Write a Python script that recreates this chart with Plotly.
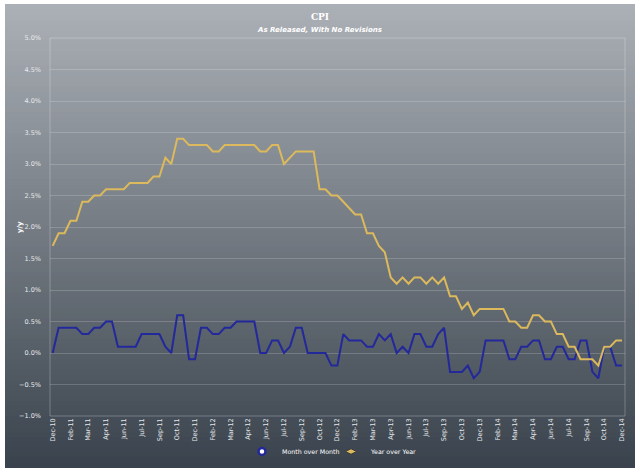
import plotly.graph_objects as go

tick_labels = ["Dec-10", "Feb-11", "Mar-11", "Apr-11", "Jun-11", "Jul-11", "Sep-11", "Oct-11",
               "Dec-11", "Feb-12", "Mar-12", "Apr-12", "Jun-12", "Jul-12", "Sep-12", "Oct-12",
               "Dec-12", "Feb-13", "Mar-13", "Apr-13", "Jun-13", "Jul-13", "Sep-13", "Oct-13",
               "Dec-13", "Feb-14", "Mar-14", "Apr-14", "Jun-14", "Jul-14", "Sep-14", "Oct-14",
               "Dec-14"]

mom = [0.0, 0.4, 0.4, 0.4, 0.4, 0.3, 0.3, 0.4, 0.4, 0.5,
       0.5, 0.1, 0.1, 0.1, 0.1, 0.3, 0.3, 0.3, 0.3, 0.1,
       0.0, 0.6, 0.6, -0.1, -0.1, 0.4, 0.4, 0.3, 0.3, 0.4,
       0.4, 0.5, 0.5, 0.5, 0.5, 0.0, 0.0, 0.2, 0.2, 0.0,
       0.1, 0.4, 0.4, 0.0, 0.0, 0.0, 0.0, -0.2, -0.2, 0.3,
       0.2, 0.2, 0.2, 0.1, 0.1, 0.3, 0.2, 0.3, 0.0, 0.1,
       0.0, 0.3, 0.3, 0.1, 0.1, 0.3, 0.4, -0.3, -0.3, -0.3,
       -0.2, -0.4, -0.3, 0.2, 0.2, 0.2, 0.2, -0.1, -0.1, 0.1,
       0.1, 0.2, 0.2, -0.1, -0.1, 0.1, 0.1, -0.1, -0.1, 0.2,
       0.2, -0.3, -0.4, 0.1, 0.1, -0.2, -0.2]

yoy = [1.7, 1.9, 1.9, 2.1, 2.1, 2.4, 2.4, 2.5, 2.5, 2.6,
       2.6, 2.6, 2.6, 2.7, 2.7, 2.7, 2.7, 2.8, 2.8, 3.1,
       3.0, 3.4, 3.4, 3.3, 3.3, 3.3, 3.3, 3.2, 3.2, 3.3,
       3.3, 3.3, 3.3, 3.3, 3.3, 3.2, 3.2, 3.3, 3.3, 3.0,
       3.1, 3.2, 3.2, 3.2, 3.2, 2.6, 2.6, 2.5, 2.5, 2.4,
       2.3, 2.2, 2.2, 1.9, 1.9, 1.7, 1.6, 1.2, 1.1, 1.2,
       1.1, 1.2, 1.2, 1.1, 1.2, 1.1, 1.2, 0.9, 0.9, 0.7,
       0.8, 0.6, 0.7, 0.7, 0.7, 0.7, 0.7, 0.5, 0.5, 0.4,
       0.4, 0.6, 0.6, 0.5, 0.5, 0.3, 0.3, 0.1, 0.1, -0.1,
       -0.1, -0.1, -0.2, 0.1, 0.1, 0.2, 0.2]

idx = list(range(len(mom)))
tick_pos = list(range(0, len(mom), 3))

BLUE = "#23289a"
GOLD = "#dcb95c"

fig = go.Figure()
fig.add_trace(go.Scatter(x=idx, y=mom, mode="lines", name="Month over Month",
                         line=dict(color=BLUE, width=2), showlegend=False))
fig.add_trace(go.Scatter(x=idx, y=yoy, mode="lines", name="Year over Year",
                         line=dict(color=GOLD, width=2), showlegend=False))
# legend entries (marker style as in the reference legend)
fig.add_trace(go.Scatter(x=[None], y=[None], mode="markers", name="Month over Month",
                         legend="legend",
                         marker=dict(symbol="circle", size=7, color="white",
                                     line=dict(color=BLUE, width=2.5))))
fig.add_trace(go.Scatter(x=[None], y=[None], mode="markers", name="Year over Year",
                         legend="legend2",
                         marker=dict(symbol="diamond-wide", size=8, color=GOLD,
                                     line=dict(color="#3a3a3a", width=1))))

# gradient background panel
W, H = 640, 473
ml, mr, mt, mb = 50, 15, 38, 57
pw, ph = W - ml - mr, H - mt - mb
def px2x(px):
    return (px - ml) / pw
def py2y(py):
    return (H - mb - py) / ph

top_c = (171, 176, 182)
bot_c = (58, 67, 77)
y0p, y1p = 4, 468
n = 90
shapes = []
for k in range(n):
    t = k / (n - 1)
    c = tuple(int(round(top_c[j] + (bot_c[j] - top_c[j]) * t)) for j in range(3))
    a = y0p + (y1p - y0p) * k / n
    b = y0p + (y1p - y0p) * (k + 1) / n + 0.8
    shapes.append(dict(type="rect", xref="paper", yref="paper", layer="below",
                       x0=px2x(5), x1=px2x(635), y0=py2y(min(b, y1p)), y1=py2y(a),
                       line=dict(width=0), fillcolor="rgb(%d,%d,%d)" % c))
shapes.append(dict(type="rect", xref="paper", yref="paper", layer="below",
                   x0=0, x1=1, y0=0, y1=1,
                   line=dict(width=1, color="rgba(255,255,255,0.25)"),
                   fillcolor="rgba(0,0,0,0)"))

leg_common = dict(orientation="h", yanchor="top", y=py2y(437), xanchor="left",
                  font=dict(size=6.3, color="white", family="DejaVu Sans"),
                  bgcolor="rgba(0,0,0,0)", itemwidth=30)

fig.update_layout(
    width=W, height=H,
    margin=dict(l=ml, r=mr, t=mt, b=mb, autoexpand=False),
    paper_bgcolor="white",
    plot_bgcolor="rgba(0,0,0,0)",
    shapes=shapes,
    title=dict(text="<b>CPI</b><br><span style='font-size:7px;font-family:DejaVu Sans'><b><i>As Released, With No Revisions</i></b></span>",
               x=0.5, xanchor="center", y=0.957, yanchor="top",
               font=dict(family="DejaVu Serif", size=9, color="white")),
    font=dict(family="DejaVu Sans", size=7, color="#e6e9ec"),
    showlegend=True,
    legend=dict(leg_common, x=px2x(242)),
    legend2=dict(leg_common, x=px2x(331)),
    annotations=[dict(text="<b>y/y</b>", textangle=-90, xref="paper", yref="paper",
                      x=px2x(20), y=py2y(227), xanchor="center", yanchor="middle",
                      showarrow=False, font=dict(size=7, color="white"))],
    xaxis=dict(range=[-0.45, len(mom) - 0.5], tickmode="array", tickvals=tick_pos,
               ticktext=tick_labels, tickangle=-90, showgrid=False, zeroline=False,
               showline=False, ticks="", automargin=False,
               tickfont=dict(size=6.5, color="#e6e9ec")),
    yaxis=dict(range=[-1.0, 5.0], dtick=0.5, tickformat=".1f", ticksuffix="%",
               showgrid=True, gridcolor="rgba(255,255,255,0.18)", gridwidth=1,
               zeroline=False, showline=False, ticks="", automargin=False,
               ticklabelstandoff=8,
               tickfont=dict(size=6.5, color="#e6e9ec")),
)

fig.write_html("out.html", config={"displayModeBar": False},
               post_script="document.body.style.margin='0';")
